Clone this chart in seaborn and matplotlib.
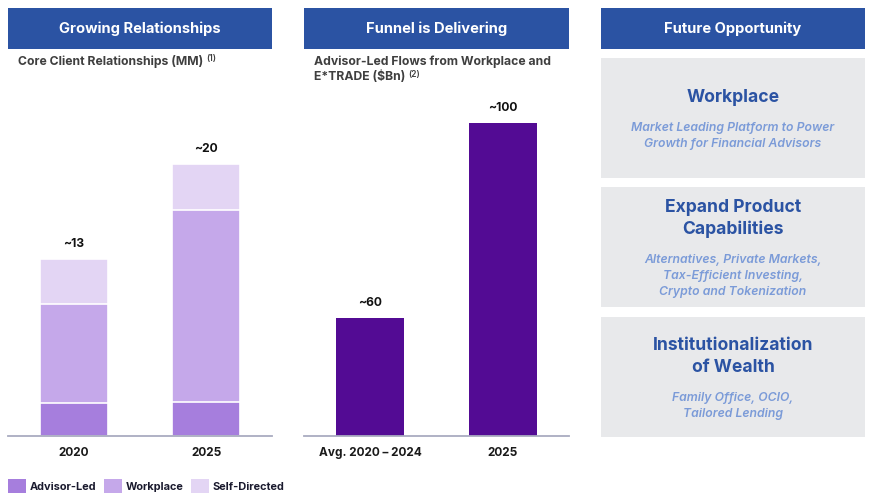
import matplotlib
matplotlib.use("Agg")
import matplotlib.pyplot as plt
import seaborn as sns
from matplotlib.patches import Rectangle

# ---------------- data ----------------
years = ["2020", "2025"]
advisor_led = [2.4, 2.5]
workplace = [7.3, 14.1]
self_directed = [3.3, 3.4]
total_labels = ["~13", "~20"]
series_names = ["Advisor-Led", "Workplace", "Self-Directed"]

flow_cats = ["Avg. 2020 \u2013 2024", "2025"]
flow_vals = [60, 100]
flow_labels = ["~60", "~100"]

headers = ["Growing Relationships", "Funnel is Delivering", "Future Opportunity"]
opp_titles = [["Workplace"], ["Expand Product", "Capabilities"], ["Institutionalization", "of Wealth"]]
opp_texts = [["Market Leading Platform to Power", "Growth for Financial Advisors"],
             ["Alternatives, Private Markets,", "Tax-Efficient Investing,", "Crypto and Tokenization"],
             ["Family Office, OCIO,", "Tailored Lending"]]

# ---------------- style ----------------
W, H = 873, 500
sns.set_theme(style="white")
plt.rcParams['font.family'] = ['Inter', 'DejaVu Sans']

BLUE = "#2B53A3"
C_ADV, C_WORK, C_SELF = "#A67EDD", "#C5A8EA", "#E3D5F4"
C_FLOW = "#530B94"
AXIS = "#A9ABC0"
GRAYTXT = "#3F3F3F"
BOX = "#E8E9EB"
SUBBLUE = "#7B9BD8"

fig = plt.figure(figsize=(W / 100, H / 100), dpi=100)
renderer = fig.canvas.get_renderer()


def fx(x):
    return x / W


def fy(y):
    return 1 - y / H


def rect(x0, y0, x1, y1, color):
    fig.patches.append(Rectangle((fx(x0), fy(y1)), (x1 - x0) / W, (y1 - y0) / H,
                                 transform=fig.transFigure, facecolor=color,
                                 edgecolor='none', zorder=0))


def text_right(t):
    bb = t.get_window_extent(renderer=renderer)
    return bb.x1  # pixels from left


# headers
header_boxes = [(8, 272), (304, 569), (601, 865)]
for (x0, x1), h in zip(header_boxes, headers):
    rect(x0, 8, x1, 49, BLUE)
    fig.text(fx((x0 + x1) / 2), fy(28.5), h, ha='center', va='center',
             color='white', fontsize=10.6, fontweight='bold')

# subtitles with superscripts
t = fig.text(fx(18), fy(62), "Core Client Relationships (MM)", ha='left', va='center',
             color=GRAYTXT, fontsize=8.8, fontweight='bold')
fig.text(fx(text_right(t) + 3), fy(59), "(1)", ha='left', va='center',
         color=GRAYTXT, fontsize=6.2, fontweight='semibold')
fig.text(fx(314), fy(62), "Advisor-Led Flows from Workplace and", ha='left', va='center',
         color=GRAYTXT, fontsize=8.8, fontweight='bold')
t = fig.text(fx(314), fy(77), "E*TRADE ($Bn)", ha='left', va='center',
             color=GRAYTXT, fontsize=8.8, fontweight='bold')
fig.text(fx(text_right(t) + 3), fy(74), "(2)", ha='left', va='center',
         color=GRAYTXT, fontsize=6.2, fontweight='semibold')


def style_axis(ax):
    for s in ['top', 'right', 'left']:
        ax.spines[s].set_visible(False)
    ax.spines['bottom'].set_color(AXIS)
    ax.spines['bottom'].set_linewidth(1.3)
    ax.set_yticks([])
    ax.set_xlabel('')
    ax.set_ylabel('')
    ax.set_xlim(-0.5, 1.5)
    ax.tick_params(axis='x', length=0, pad=8)
    for lab in ax.get_xticklabels():
        lab.set_fontweight('bold')
        lab.set_fontsize(8.5)
        lab.set_color('#1A1A1A')
    ax.patch.set_alpha(0)


# ---------------- chart 1: stacked ----------------
ax1 = fig.add_axes([fx(8), fy(436), (272 - 8) / W, (436 - 100) / H])
cum1 = [a for a in advisor_led]
cum2 = [a + w for a, w in zip(advisor_led, workplace)]
cum3 = [a + w + s for a, w, s in zip(advisor_led, workplace, self_directed)]
for vals, col in [(cum3, C_SELF), (cum2, C_WORK), (cum1, C_ADV)]:
    sns.barplot(x=years, y=vals, color=col, saturation=1, width=0.515,
                edgecolor='white', linewidth=1.2, ax=ax1)
ax1.set_ylim(0, 336 / 13.6)
for i, (tot, lab) in enumerate(zip(cum3, total_labels)):
    ax1.annotate(lab, (i, tot), xytext=(0, 11), textcoords='offset points',
                 ha='center', va='center', fontsize=8.7, fontweight='bold', color='#111111')
style_axis(ax1)

# ---------------- chart 2: flows ----------------
ax2 = fig.add_axes([fx(304), fy(436), (569 - 304) / W, (436 - 100) / H])
sns.barplot(x=flow_cats, y=flow_vals, color=C_FLOW, saturation=1, width=0.515,
            edgecolor='none', ax=ax2)
ax2.set_ylim(35.8, 35.8 + 336 / 4.875)
for i, (v, lab) in enumerate(zip(flow_vals, flow_labels)):
    ax2.annotate(lab, (i, v), xytext=(0, 10.5), textcoords='offset points',
                 ha='center', va='center', fontsize=8.7, fontweight='bold', color='#111111')
style_axis(ax2)

# ---------------- legend ----------------
x = 8
for name, col in zip(series_names, [C_ADV, C_WORK, C_SELF]):
    rect(x, 479, x + 18, 493, col)
    t = fig.text(fx(x + 22), fy(490), name, ha='left', va='baseline',
                 fontsize=7.9, fontweight='bold', color='#1A1A2E')
    x = text_right(t) + 7

# ---------------- panel 3: opportunity boxes ----------------
boxes = [(58, 178), (187, 307), (317, 437)]
for (y0, y1), titles, subs in zip(boxes, opp_titles, opp_texts):
    rect(601, y0, 865, y1, BOX)
    offs = []
    o = 0
    for k in range(len(titles)):
        offs.append(o)
        o += 22.5
    o = offs[-1] + 30
    sub_offs = []
    for k in range(len(subs)):
        sub_offs.append(o)
        o += 16
    mid = (offs[0] + sub_offs[-1]) / 2
    base = (y0 + y1) / 2 - mid + 2.5
    for line, of in zip(titles, offs):
        fig.text(fx(733), fy(base + of), line, ha='center', va='center',
                 fontsize=12.6, fontweight='bold', color=BLUE)
    for line, of in zip(subs, sub_offs):
        fig.text(fx(733), fy(base + of + 0.5), line, ha='center', va='center',
                 fontsize=8.8, fontweight='semibold', style='italic', color=SUBBLUE)

fig.savefig("out.png", dpi=100)
